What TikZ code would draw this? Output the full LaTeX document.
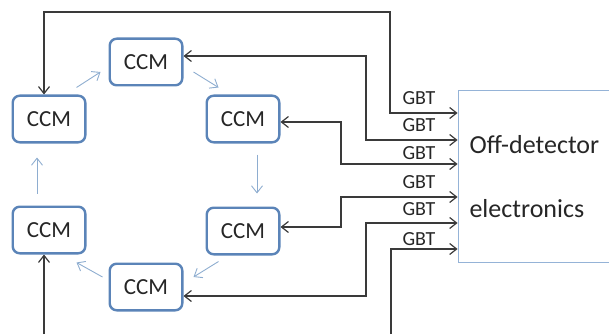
\documentclass[tikz,border=0pt]{standalone}
\usepackage{fontspec}
\setmainfont{Carlito}
\usetikzlibrary{arrows.meta}

\definecolor{ccmblue}{HTML}{5B84B8}
\definecolor{ringblue}{HTML}{8EADD0}
\definecolor{boxblue}{HTML}{95B3D7}
\definecolor{wire}{HTML}{3A3A3A}

\begin{document}
\begin{tikzpicture}[x=1pt, y=-1pt, >={Straight Barb[length=7pt,width=11pt]},
  ccm/.style={draw=ccmblue, line width=2.4pt, rounded corners=7pt, fill=white,
    minimum width=72.6pt, minimum height=46.6pt, font=\fontsize{23}{26}\selectfont, text=black!85},
  ring/.style={draw=ringblue, line width=0.9pt, ->},
  link/.style={draw=wire, line width=1.2pt},
  gbt/.style={font=\fontsize{20}{22}\selectfont, text=black!85, inner sep=0pt}]
\useasboundingbox (0,0) rectangle (609,334);

% ring of CCMs
\node[ccm] (ccmT) at (146,62) {CCM};
\node[ccm] (ccmUL) at (49,119) {CCM};
\node[ccm] (ccmUR) at (243,119) {CCM};
\node[ccm] (ccmLL) at (49,230) {CCM};
\node[ccm] (ccmLR) at (243,231) {CCM};
\node[ccm] (ccmB) at (146,287) {CCM};

\node[draw=boxblue, line width=0.8pt, minimum width=156pt, minimum height=172pt] (ode) at (536,176) {};
\node[align=left, anchor=west, font=\fontsize{26}{64}\selectfont, text=black!85] (odeText) at (466,177) {Off-detector\\electronics};

\draw[ring] ([shift={(-10pt,7pt)}]ccmUL.north east) -- ([shift={(-8pt,-10pt)}]ccmT.west);
\draw[ring] ([shift={(10pt,-10pt)}]ccmT.east) -- ([shift={(13pt,7pt)}]ccmUR.north west);
\draw[ring] ([shift={(14pt,-11pt)}]ccmUR.south) -- ([shift={(14pt,13pt)}]ccmLR.north);
\draw[ring] ([shift={(13pt,-6pt)}]ccmLR.south west) -- ([shift={(10pt,10pt)}]ccmB.east);
\draw[ring] ([shift={(-6pt,10pt)}]ccmB.west) -- ([shift={(-10pt,-8pt)}]ccmLL.south east);
\draw[ring] ([shift={(-12pt,12pt)}]ccmLL.north) -- ([shift={(-12pt,-14pt)}]ccmUL.south);

% GBT links
\coordinate (llEnd) at (44,334);
\coordinate (gbtEnd) at (391,334);
\draw[link, <->] ([xshift=-5pt]ccmUL.north) |- (390,12) |- (ode.west |- 0,113);
\draw[link, <->] ([yshift=6pt]ccmT.east) -| (366,140) -- (ode.west |- 0,140);
\draw[link, <->] ([yshift=-3pt]ccmUR.east) -| (341,164) -- (ode.west |- 0,164);
\draw[link, <->] ([yshift=4pt]ccmLR.east) -| (341,197) -- (ode.west |- 0,197);
\draw[link, <->] ([yshift=-9pt]ccmB.east) -| (366,223) -- (ode.west |- 0,223);
\draw[link, ->] (llEnd) -- ([xshift=-5pt]ccmLL.south);
\draw[link, ->] (gbtEnd) |- (ode.west |- 0,249);

\node[gbt] (gbt1) at (419,98) {GBT};
\node[gbt] (gbt2) at (419,125) {GBT};
\node[gbt] (gbt3) at (419,153) {GBT};
\node[gbt] (gbt4) at (419,182) {GBT};
\node[gbt] (gbt5) at (419,209) {GBT};
\node[gbt] (gbt6) at (419,239) {GBT};
\end{tikzpicture}
\end{document}
